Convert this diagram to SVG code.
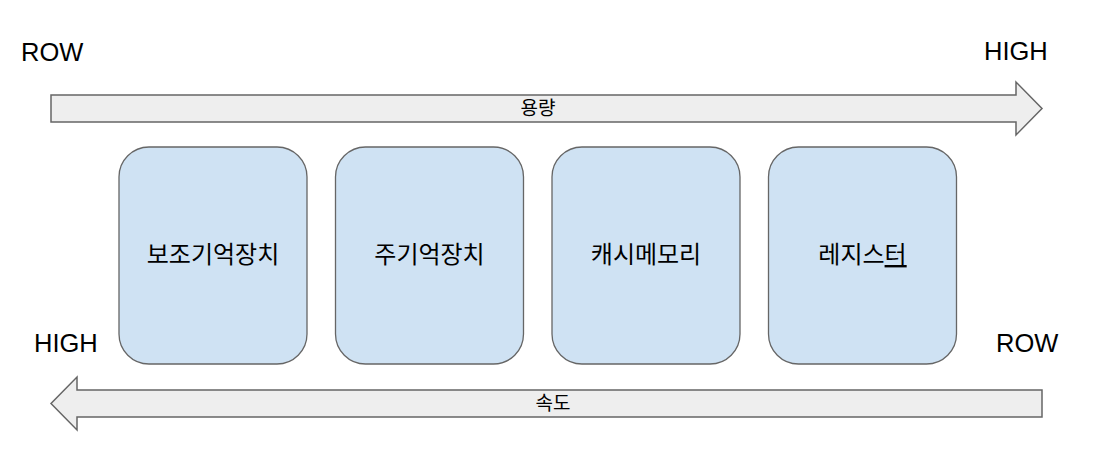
<svg xmlns="http://www.w3.org/2000/svg" width="1095" height="451" viewBox="0 0 1095 451">
<style>
.lbl{font-family:"Liberation Sans",Arial,sans-serif;font-size:25.5px;fill:#000}
.arrow{fill:#eeeeee;stroke:#666666;stroke-width:1.5}
.box{fill:#cfe2f3;stroke:#666666;stroke-width:1.3}
.ktxt{font-family:"Noto Sans CJK KR","Noto Sans",sans-serif;font-size:24px;fill:#000;text-anchor:middle}
.atxt{font-family:"Noto Sans CJK KR","Noto Sans",sans-serif;font-size:19px;fill:#000;text-anchor:middle}
</style>
<rect width="1095" height="451" fill="#ffffff"/>
<text class="lbl" x="21" y="61">ROW</text>
<text class="lbl" x="984" y="60">HIGH</text>
<text class="lbl" x="34" y="352">HIGH</text>
<text class="lbl" x="996" y="352">ROW</text>
<g id="connectors">
<g id="arrow-capacity">
<path class="arrow" d="M51 95 L1016 95 L1016 82 L1042 108.5 L1016 135 L1016 122 L51 122 Z"/>
<text class="atxt" x="538" y="115">용량</text>
</g>
<g id="arrow-speed">
<path class="arrow" d="M1042 390 L77 390 L77 377 L51 403.5 L77 430 L77 417 L1042 417 Z"/>
<text class="atxt" x="553" y="410">속도</text>
</g>
</g>
<g id="node-secondary">
<rect class="box" x="119" y="147" width="188" height="217" rx="30"/>
<text class="ktxt" x="213" y="263">보조기억장치</text>
</g>
<g id="node-main">
<rect class="box" x="335.5" y="147" width="188" height="217" rx="30"/>
<text class="ktxt" x="429.5" y="263">주기억장치</text>
</g>
<g id="node-cache">
<rect class="box" x="552" y="147" width="188" height="217" rx="30"/>
<text class="ktxt" x="646" y="263">캐시메모리</text>
</g>
<g id="node-register">
<rect class="box" x="768.5" y="147" width="188" height="217" rx="30"/>
<text class="ktxt" x="862.5" y="263">레지스<tspan text-decoration="underline">터</tspan></text>
</g>
</svg>
